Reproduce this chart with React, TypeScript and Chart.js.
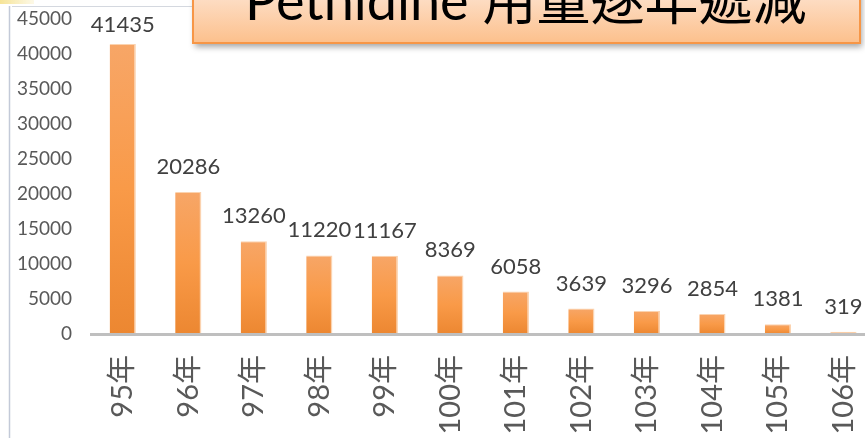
import React, { useEffect, useRef } from "react";
import { Chart, registerables } from "chart.js";

Chart.register(...registerables);

const categories = ["95年", "96年", "97年", "98年", "99年", "100年", "101年", "102年", "103年", "104年", "105年", "106年"];
const values = [41435, 20286, 13260, 11220, 11167, 8369, 6058, 3639, 3296, 2854, 1381, 319];
const yTicks = [0, 5000, 10000, 15000, 20000, 25000, 30000, 35000, 40000, 45000];
const titleText = "Pethidine 用量逐年遞減";

const FONT = 'Lato, "Noto Sans CJK TC", sans-serif';

export default function App() {
  const ref = useRef<HTMLCanvasElement>(null);

  useEffect(() => {
    const canvas = ref.current!;

    const decoPlugin = {
      id: "deco",
      afterDatasetsDraw(chart: any) {
        const ctx = chart.ctx as CanvasRenderingContext2D;
        const area = chart.chartArea;
        const meta = chart.getDatasetMeta(0);
        ctx.save();
        // axis line
        ctx.strokeStyle = "#BFBFBF";
        ctx.lineWidth = 3;
        ctx.beginPath();
        ctx.moveTo(area.left, area.bottom + 0.5);
        ctx.lineTo(area.right, area.bottom + 0.5);
        ctx.stroke();
        // value labels
        ctx.font = `22px ${FONT}`;
        ctx.fillStyle = "#404040";
        ctx.textAlign = "center";
        ctx.textBaseline = "alphabetic";
        meta.data.forEach((bar: any, i: number) => {
          const y = Math.max(bar.y - 18, area.top + 13);
          ctx.fillText(String(values[i]), bar.x, y);
        });
        ctx.restore();
      },
      afterDraw(chart: any) {
        const ctx = chart.ctx as CanvasRenderingContext2D;
        ctx.save();
        // slide frame lines
        ctx.strokeStyle = "#D4D8DF";
        ctx.lineWidth = 1;
        ctx.beginPath();
        ctx.moveTo(12, 6.5);
        ctx.lineTo(195, 6.5);
        ctx.stroke();
        ctx.strokeStyle = "#C3CAD8";
        ctx.lineWidth = 1.5;
        ctx.beginPath();
        ctx.moveTo(9.5, 6);
        ctx.lineTo(9.5, 438);
        ctx.stroke();
        // yellow corner
        const yg = ctx.createLinearGradient(0, 0, 34, 0);
        yg.addColorStop(0, "rgba(245,225,140,0.9)");
        yg.addColorStop(1, "rgba(245,225,140,0.2)");
        ctx.fillStyle = yg;
        ctx.fillRect(0, 0, 34, 4);
        // title box
        const bx = 193, by = -30, bw = 667, bh = 73;
        ctx.shadowColor = "rgba(0,0,0,0.35)";
        ctx.shadowBlur = 6;
        ctx.shadowOffsetX = 2;
        ctx.shadowOffsetY = 4;
        const g = ctx.createLinearGradient(0, 0, 0, by + bh);
        g.addColorStop(0, "#FDDCC2");
        g.addColorStop(1, "#FCC08C");
        ctx.fillStyle = g;
        ctx.fillRect(bx, by, bw, bh);
        ctx.shadowColor = "transparent";
        ctx.strokeStyle = "#F79646";
        ctx.lineWidth = 2;
        ctx.strokeRect(bx, by, bw, bh);
        ctx.fillStyle = "#000000";
        ctx.font = `54px ${FONT}`;
        ctx.textAlign = "left";
        ctx.textBaseline = "alphabetic";
        ctx.fillText(titleText, 245, 20);
        ctx.restore();
      },
    };

    const chart = new Chart(canvas, {
      type: "bar",
      data: {
        labels: categories,
        datasets: [
          {
            data: values,
            backgroundColor: (c: any) => {
              const ch = c.chart;
              const ys = ch.scales && ch.scales.y;
              if (!ys || c.raw === undefined) return "#F79A4C";
              const top = ys.getPixelForValue(c.raw);
              const bottom = ys.getPixelForValue(0);
              if (!isFinite(top) || !isFinite(bottom) || bottom - top < 1) return "#F7A465";
              const gr = ch.ctx.createLinearGradient(0, top, 0, bottom);
              gr.addColorStop(0, "#F7A667");
              gr.addColorStop(0.5, "#F99A48");
              gr.addColorStop(1, "#EC8731");
              return gr;
            },
            borderColor: "#FBD3B0",
            borderWidth: { top: 1, right: 1.5, left: 0, bottom: 0 },
            borderSkipped: "bottom",
            categoryPercentage: 1,
            barPercentage: 0.4,
          } as any,
        ],
      },
      options: {
        responsive: false,
        animation: false,
        devicePixelRatio: 1,
        layout: { padding: { top: 19, right: 18, left: 0, bottom: 0 } },
        plugins: {
          legend: { display: false },
          tooltip: { enabled: false },
        },
        scales: {
          x: {
            grid: { display: false, drawTicks: false },
            border: { display: false },
            ticks: {
              minRotation: 90,
              maxRotation: 90,
              autoSkip: false,
              padding: 21,
              color: "#595959",
              font: { family: FONT, size: 29 },
            },
            afterFit: (s: any) => {
              s.height = 104;
            },
          },
          y: {
            min: 0,
            max: 45000,
            grid: {
              display: true,
              drawOnChartArea: false,
              drawTicks: true,
              tickLength: 18,
              color: "rgba(0,0,0,0)",
            },
            border: { display: false },
            afterBuildTicks: (s: any) => {
              s.ticks = yTicks.map((v) => ({ value: v }));
            },
            ticks: {
              padding: 0,
              color: "#595959",
              font: { family: FONT, size: 19 },
              callback: (v: any) => String(v),
            },
            afterFit: (s: any) => {
              s.width = 90;
            },
          },
        },
      } as any,
      plugins: [decoPlugin],
    });
    return () => chart.destroy();
  }, []);

  return (
    <div
      style={{
        position: "fixed",
        left: 0,
        top: 0,
        width: 865,
        height: 438,
        overflow: "hidden",
        background: "#ffffff",
      }}
    >
      <canvas ref={ref} width={900} height={438} style={{ display: "block", width: 900, height: 438 }} />
    </div>
  );
}
